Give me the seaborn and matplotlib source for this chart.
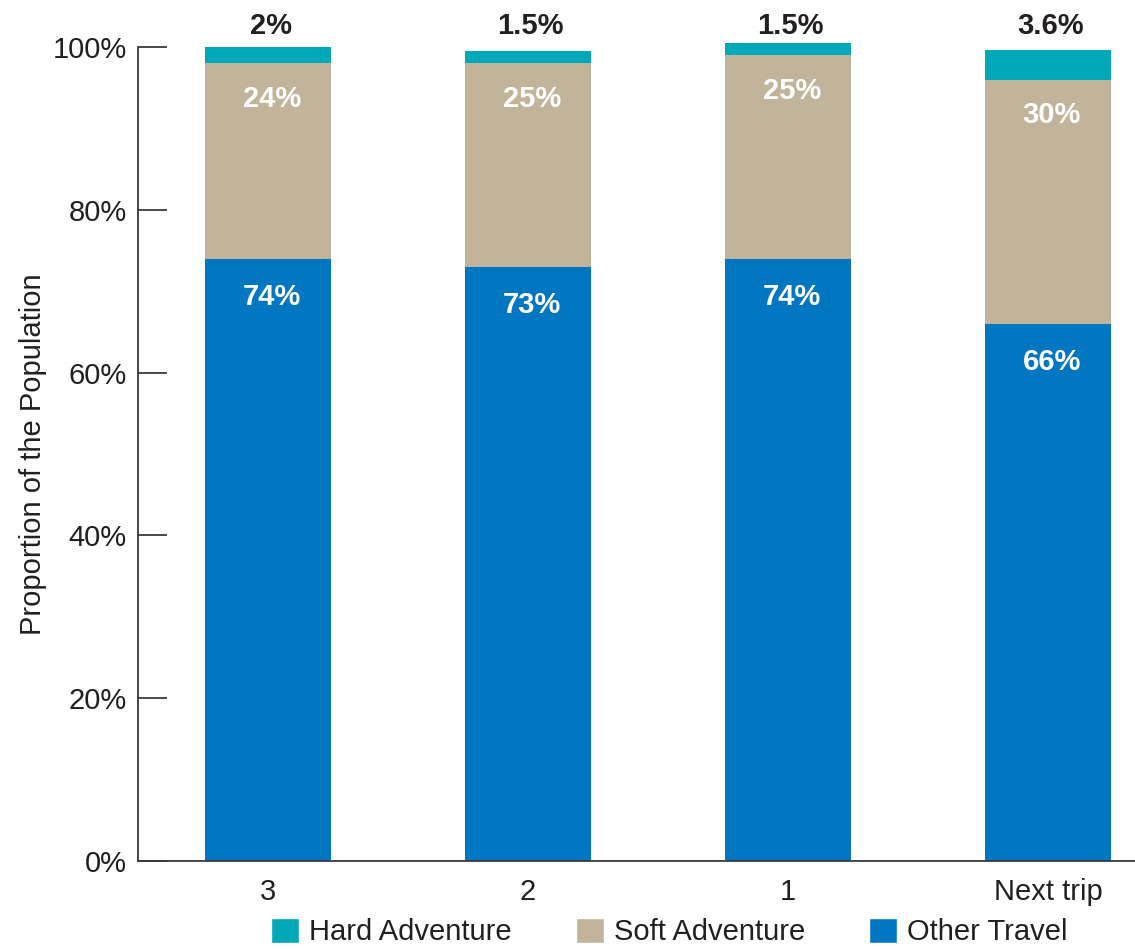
import numpy as np
import pandas as pd
import matplotlib
matplotlib.use("Agg")
import matplotlib.pyplot as plt
from matplotlib import font_manager
from matplotlib.patches import Patch
import seaborn as sns

# Share of trips by travel type
periods = ["3", "2", "1", "Next trip"]
other_travel = [74, 73, 74, 66]
soft_adventure = [24, 25, 25, 30]
hard_adventure = [2, 1.5, 1.5, 3.6]
other_labels = ["74%", "73%", "74%", "66%"]
soft_labels = ["24%", "25%", "25%", "30%"]
hard_labels = ["2%", "1.5%", "1.5%", "3.6%"]
y_ticks = [0, 20, 40, 60, 80, 100]
y_tick_labels = ["0%", "20%", "40%", "60%", "80%", "100%"]

c_hard = "#00A8B8"
c_soft = "#C2B49A"
c_other = "#0077C0"
c_text = "#231F20"

sns.set_theme(style="white")
installed = {f.name for f in font_manager.fontManager.ttflist}
family = "Liberation Sans Narrow" if "Liberation Sans Narrow" in installed else "Liberation Sans"
plt.rcParams["font.family"] = [family, "DejaVu Sans"]

df = pd.DataFrame({
    "period": periods,
    "other": other_travel,
    "soft": soft_adventure,
    "hard": hard_adventure,
})
df["top_soft"] = df["other"] + df["soft"]
df["top_hard"] = df["top_soft"] + df["hard"]

fig = plt.figure(figsize=(11.35, 9.49), dpi=100)
ax = fig.add_axes([0.1216, 0.0927, 0.8784, 0.8578])

bar_w = 0.485
# stacked bars drawn as overlapping cumulative totals
sns.barplot(data=df, x="period", y="top_hard", order=periods, color=c_hard,
            width=bar_w, saturation=1, ax=ax, clip_on=False, linewidth=0)
sns.barplot(data=df, x="period", y="top_soft", order=periods, color=c_soft,
            width=bar_w, saturation=1, ax=ax, clip_on=False, linewidth=0)
sns.barplot(data=df, x="period", y="other", order=periods, color=c_other,
            width=bar_w, saturation=1, ax=ax, clip_on=False, linewidth=0)

fs = 21
for i, row in df.iterrows():
    ax.text(i + 0.01, 102.6, hard_labels[i], ha="center", va="center",
            fontsize=fs, fontweight="bold", color=c_text, clip_on=False)
    ax.text(i + 0.015, row["top_soft"] - 4.4, soft_labels[i], ha="center", va="center",
            fontsize=fs, fontweight="bold", color="white")
    ax.text(i + 0.015, row["other"] - 4.7, other_labels[i], ha="center", va="center",
            fontsize=fs, fontweight="bold", color="white")

ax.set_xlim(-0.5, 3.335)
ax.set_ylim(0, 100)
ax.set_yticks(y_ticks)
ax.set_yticklabels(y_tick_labels)
ax.set_xlabel("")
ax.set_ylabel("Proportion of the Population", fontsize=fs, color=c_text, labelpad=4)

for side in ["top", "right"]:
    ax.spines[side].set_visible(False)
for side in ["left", "bottom"]:
    ax.spines[side].set_color("#3a3a3a")
    ax.spines[side].set_linewidth(1.3)

ax.tick_params(axis="y", direction="in", length=21, width=1.3, color="#3a3a3a",
               labelsize=fs, labelcolor=c_text, pad=8, left=True)
ax.tick_params(axis="x", length=0, labelsize=fs, labelcolor=c_text, pad=12)

handles = [Patch(facecolor=c_hard, label="Hard Adventure"),
           Patch(facecolor=c_soft, label="Soft Adventure"),
           Patch(facecolor=c_other, label="Other Travel")]
fig.legend(handles=handles, loc="center", bbox_to_anchor=(0.59, 0.018), ncol=3,
           frameon=False, fontsize=fs, handlelength=0.95, handleheight=0.95,
           handletextpad=0.35, columnspacing=2.2, labelcolor=c_text)

fig.savefig("out.png", dpi=100)
